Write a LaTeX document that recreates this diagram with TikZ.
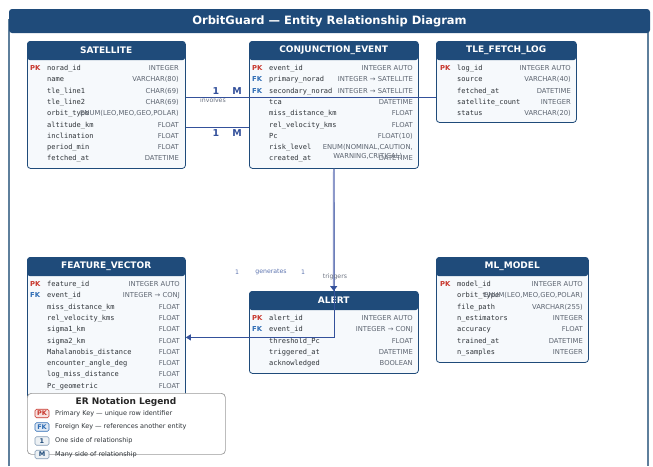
\documentclass[tikz,border=0pt]{standalone}
\usepackage{fontspec}
\setmainfont{DejaVu Sans}
\setmonofont{DejaVu Sans Mono}
\usetikzlibrary{arrows.meta, positioning, calc}
\definecolor{navy}{HTML}{1F4B7A}
\definecolor{bodyfill}{HTML}{F6F9FC}
\definecolor{framec}{HTML}{5E7F9C}
\definecolor{pkred}{HTML}{C8372D}
\definecolor{fkblue}{HTML}{2F6DB5}
\definecolor{relblue}{HTML}{34519B}
\definecolor{trigblue}{HTML}{8D99CA}
\definecolor{typegray}{HTML}{5C6470}
\definecolor{namegray}{HTML}{2E3338}
\definecolor{labgray}{HTML}{6B7280}

\begin{document}
\begin{tikzpicture}[
    x=1pt, y=-1pt,
    titlebar/.style={rectangle, rounded corners=3pt, fill=navy, text=white, minimum width=641, minimum height=24, inner sep=0pt, font=\fontsize{11.5}{13}\selectfont\bfseries},
    hdr/.style={rectangle, rounded corners=3pt, fill=navy, text=white, minimum height=19, inner sep=0pt, anchor=north west, font=\fontsize{9}{10}\selectfont\bfseries},
    bodybox/.style={rectangle, rounded corners=3pt, draw=navy, line width=0.8pt, fill=bodyfill, inner sep=0pt, anchor=north west},
    kcol/.style={anchor=base west, inner sep=0pt, font=\fontsize{6.8}{8}\selectfont\bfseries},
    kcolPK/.style={kcol, text=pkred},
    kcolFK/.style={kcol, text=fkblue},
    ncol/.style={anchor=base west, inner sep=0pt, text=namegray, font=\fontsize{7}{8}\selectfont\ttfamily},
    tcol/.style={anchor=base east, inner sep=0pt, text=typegray, font=\fontsize{6.8}{9}\selectfont},
    card/.style={inner sep=0pt, text=relblue, font=\fontsize{9.5}{10}\selectfont\bfseries},
    smalllab/.style={inner sep=0pt, text=relblue!80, font=\fontsize{6.2}{7}\selectfont},
    rel/.style={relblue, line width=0.8pt},
    gen/.style={-{Triangle[length=5pt,width=6pt]}, relblue, line width=0.8pt},
    trig/.style={-{Triangle[length=5pt,width=7pt,color=relblue]}, trigblue, line width=1.8pt},
    legendbox/.style={rectangle, rounded corners=4pt, draw=gray!80, line width=0.7pt, fill=white, anchor=north west, inner sep=0pt, minimum width=198, minimum height=61},
    badge/.style={rectangle, rounded corners=1.5pt, minimum width=14, minimum height=8.5, inner sep=0pt, line width=0.6pt, font=\fontsize{6.5}{7}\selectfont\bfseries},
    legtext/.style={anchor=west, inner sep=0pt, text=namegray, font=\fontsize{6.5}{7}\selectfont},
]

\useasboundingbox (0,0) rectangle (653,466);

% frame and title
\draw[framec, line width=1.2pt] (9,466) -- (9,20) -- (648,20) -- (648,466);
\node[titlebar] (title) at (329.5,21) {OrbitGuard — Entity Relationship Diagram};

% SATELLITE
\node[bodybox, minimum width=158, minimum height=127] (satbody) at (27,41) {};
\node[hdr, minimum width=158] (sat) at (27,41) {SATELLITE};
\foreach \pk/\cn/\ct [count=\i from 0] in {PK/norad\_id/INTEGER, /name/VARCHAR(80), /tle\_line1/CHAR(69), /tle\_line2/CHAR(69), /orbit\_type/{ENUM(LEO,MEO,GEO,POLAR)}, /altitude\_km/FLOAT, /inclination/FLOAT, /period\_min/FLOAT, /fetched\_at/DATETIME}{
  \node[kcol\pk] (sat-k\i) at (30,{70.5+11.3*\i}) {\pk};
  \node[ncol] (sat-n\i) at (47,{70.5+11.3*\i}) {\cn};
  \node[tcol] (sat-t\i) at (179,{70.5+11.3*\i}) {\ct};
}

% CONJUNCTION_EVENT
\node[bodybox, minimum width=169, minimum height=127] (conjbody) at (249,41) {};
\node[hdr, minimum width=169] (conj) at (249,41) {CONJUNCTION\_EVENT};
\foreach \pk/\cn/\ct [count=\i from 0] in {PK/event\_id/INTEGER AUTO, FK/primary\_norad/INTEGER → SATELLITE, FK/secondary\_norad/INTEGER → SATELLITE, /tca/DATETIME, /miss\_distance\_km/FLOAT, /rel\_velocity\_kms/FLOAT, /Pc/FLOAT(10), /risk\_level/{ENUM(NOMINAL,CAUTION,}, /created\_at/DATETIME}{
  \node[kcol\pk] (conj-k\i) at (252,{70.5+11.3*\i}) {\pk};
  \node[ncol] (conj-n\i) at (269,{70.5+11.3*\i}) {\cn};
  \node[tcol] (conj-t\i) at (413,{70.5+11.3*\i}) {\ct};
}
\node[tcol, anchor=base] (conj-t7b) at ([yshift=-9pt]conj-t7.base) {WARNING,CRITICAL)};

% TLE_FETCH_LOG
\node[bodybox, minimum width=140, minimum height=81] (tlebody) at (436,41) {};
\node[hdr, minimum width=140] (tle) at (436,41) {TLE\_FETCH\_LOG};
\foreach \pk/\cn/\ct [count=\i from 0] in {PK/log\_id/INTEGER AUTO, /source/VARCHAR(40), /fetched\_at/DATETIME, /satellite\_count/INTEGER, /status/VARCHAR(20)}{
  \node[kcol\pk] (tle-k\i) at (440,{70.5+11.3*\i}) {\pk};
  \node[ncol] (tle-n\i) at (457,{70.5+11.3*\i}) {\cn};
  \node[tcol] (tle-t\i) at (571,{70.5+11.3*\i}) {\ct};
}

% FEATURE_VECTOR
\node[bodybox, minimum width=158, minimum height=141] (fvbody) at (27,257) {};
\node[hdr, minimum width=158] (fv) at (27,257) {FEATURE\_VECTOR};
\foreach \pk/\cn/\ct [count=\i from 0] in {PK/feature\_id/INTEGER AUTO, FK/event\_id/INTEGER → CONJ, /miss\_distance\_km/FLOAT, /rel\_velocity\_kms/FLOAT, /sigma1\_km/FLOAT, /sigma2\_km/FLOAT, /Mahalanobis\_distance/FLOAT, /encounter\_angle\_deg/FLOAT, /log\_miss\_distance/FLOAT, /Pc\_geometric/FLOAT}{
  \node[kcol\pk] (fv-k\i) at (30,{286.5+11.3*\i}) {\pk};
  \node[ncol] (fv-n\i) at (47,{286.5+11.3*\i}) {\cn};
  \node[tcol] (fv-t\i) at (180,{286.5+11.3*\i}) {\ct};
}

% ALERT
\node[bodybox, minimum width=169, minimum height=82] (alertbody) at (249,291) {};
\node[hdr, minimum width=169] (alert) at (249,291) {ALERT};
\foreach \pk/\cn/\ct [count=\i from 0] in {PK/alert\_id/INTEGER AUTO, FK/event\_id/INTEGER → CONJ, /threshold\_Pc/FLOAT, /triggered\_at/DATETIME, /acknowledged/BOOLEAN}{
  \node[kcol\pk] (alert-k\i) at (252,{320.5+11.3*\i}) {\pk};
  \node[ncol] (alert-n\i) at (269,{320.5+11.3*\i}) {\cn};
  \node[tcol] (alert-t\i) at (413,{320.5+11.3*\i}) {\ct};
}

% ML_MODEL
\node[bodybox, minimum width=152, minimum height=105] (mlbody) at (436,257) {};
\node[hdr, minimum width=152] (ml) at (436,257) {ML\_MODEL};
\foreach \pk/\cn/\ct [count=\i from 0] in {PK/model\_id/INTEGER AUTO, /orbit\_type/{ENUM(LEO,MEO,GEO,POLAR)}, /file\_path/VARCHAR(255), /n\_estimators/INTEGER, /accuracy/FLOAT, /trained\_at/DATETIME, /n\_samples/INTEGER}{
  \node[kcol\pk] (ml-k\i) at (440,{286.5+11.3*\i}) {\pk};
  \node[ncol] (ml-n\i) at (457,{286.5+11.3*\i}) {\cn};
  \node[tcol] (ml-t\i) at (583,{286.5+11.3*\i}) {\ct};
}

% relationships
\coordinate (satport1) at ([yshift=7.5pt]satbody.east);
\coordinate (satport2) at ([yshift=-22.5pt]satbody.east);
\coordinate (fvport) at ([yshift=-9.5pt]fvbody.east);

\draw[rel] (satport1) -- (satport1 -| tlebody.west);
\draw[rel] (satport2) -- (satport2 -| conjbody.west);
\draw[gen] (conjbody.south) |- (fvport);
\draw[trig] (conjbody.south) -- (alert.north);

\node[card] (c1a) at (216,91) {1};
\node[card] (c1b) at (237,91) {M};
\node[card] (c2a) at (216,133) {1};
\node[card] (c2b) at (237,133) {M};
\node[smalllab, text=labgray] (involves) at (213,100) {involves};

\node[smalllab] (g1) at (237,272) {1};
\node[smalllab] (g2) at (271,272) {generates};
\node[smalllab] (g3) at (303,272) {1};
\node[smalllab, text=labgray] (triggers) at (335,277) {triggers};

% legend
\node[legendbox] (legend) at (27,393) {};
\node[font=\fontsize{9}{10}\selectfont\bfseries, text=black!85] (legtitle) at (126,402) {ER Notation Legend};
\node[badge, fill=pkred!15, draw=pkred, text=pkred] (bpk) at (42,413.5) {PK};
\node[badge, fill=fkblue!15, draw=fkblue, text=fkblue] (bfk) at (42,427) {FK};
\node[badge, fill=navy!8, draw=navy!55, text=navy] (bone) at (42,441) {1};
\node[badge, fill=navy!8, draw=navy!55, text=navy] (bmany) at (42,454.5) {M};
\node[legtext] (lpk) at (55,413.5) {Primary Key — unique row identifier};
\node[legtext] (lfk) at (55,427) {Foreign Key — references another entity};
\node[legtext] (lone) at (55,441) {One side of relationship};
\node[legtext] (lmany) at (55,454.5) {Many side of relationship};

\end{tikzpicture}
\end{document}
